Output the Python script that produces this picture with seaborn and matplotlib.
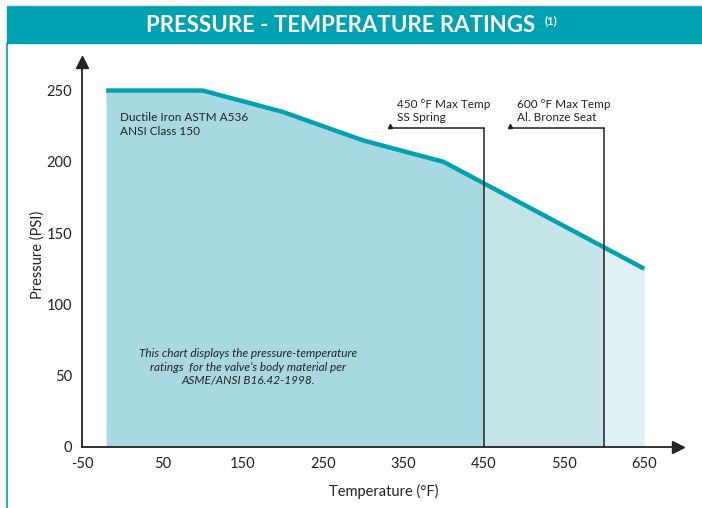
import numpy as np
import pandas as pd
import seaborn as sns
import matplotlib.pyplot as plt
from matplotlib.patches import Rectangle
from matplotlib.lines import Line2D

# pressure-temperature rating, ductile iron class 150
temps = [-20, 100, 200, 300, 400, 500, 600, 650]
pressures = [250, 250, 235, 215, 200, 170, 140, 125]

x_ticks = [-50, 50, 150, 250, 350, 450, 550, 650]
y_ticks = [0, 50, 100, 150, 200, 250]

limit_temps = [450, 600]
limit_labels = ["450 °F Max Temp\nSS Spring", "600 °F Max Temp\nAl. Bronze Seat"]
bracket_psi = 224
bracket_left = [334, 483]

teal = "#00a1b0"
fills = ["#a8d8e2", "#c4e4ea", "#dff1f4"]

sns.set_theme(style="white")
plt.rcParams['font.family'] = ['Lato', 'DejaVu Sans']

df = pd.DataFrame({"temp": temps, "psi": pressures})

fig = plt.figure(figsize=(7.02, 5.08), dpi=100)
ax = fig.add_axes([82 / 702, 61 / 508, 596 / 702, 385 / 508])

# shaded zones split at the limit temperatures
edges = [temps[0]] + limit_temps + [temps[-1]]
for i in range(3):
    lo, hi = edges[i], edges[i + 1]
    xs = sorted(set([lo, hi] + [t for t in temps if lo < t < hi]))
    ax.fill_between(xs, np.interp(xs, temps, pressures), 0,
                    color=fills[i], lw=0, zorder=1)

sns.lineplot(data=df, x="temp", y="psi", ax=ax, color=teal, lw=3.2,
             solid_capstyle="butt", zorder=3)

# limit brackets
for t, lab, left in zip(limit_temps, limit_labels, bracket_left):
    ax.plot([t, t], [0, bracket_psi], color="#222222", lw=1.1, zorder=4)
    ax.plot([left, t], [bracket_psi, bracket_psi], color="#222222", lw=1.1, zorder=4)
    ax.plot(left, bracket_psi + 1.2, marker="^", color="#222222", ms=3, zorder=4)
    ax.text(left + 8, bracket_psi + 3, lab, fontsize=8.5, va="bottom",
            ha="left", color="#222222", linespacing=1.3)

ax.text(-3, 226, "Ductile Iron ASTM A536\nANSI Class 150", fontsize=8.5,
        va="center", ha="left", color="#222222", linespacing=1.3)
ax.text(157, 56, "This chart displays the pressure-temperature\n"
        "ratings  for the valve’s body material per\nASME/ANSI B16.42-1998.",
        fontsize=8.5, style="italic", ha="center", va="center",
        color="#222222", linespacing=1.3)

ax.set_xlim(-50, 692)
ax.set_ylim(0, 270)
ax.set_xticks(x_ticks)
ax.set_yticks(y_ticks)
ax.set_xticklabels([str(v) for v in x_ticks])
ax.tick_params(axis="x", direction="in", length=9, width=1.3, labelsize=10.5,
               pad=7, colors="#222222")
ax.tick_params(axis="y", direction="inout", length=12, width=1.3, labelsize=10.5,
               pad=1, colors="#222222")
for s in ["top", "right"]:
    ax.spines[s].set_visible(False)
for s in ["left", "bottom"]:
    ax.spines[s].set_color("#222222")
    ax.spines[s].set_linewidth(1.3)
ax.plot(1, 0, ">", color="#222222", ms=9, transform=ax.transAxes, clip_on=False)
ax.plot(0, 1, "^", color="#222222", ms=9, transform=ax.transAxes, clip_on=False)
ax.set_xlabel("Temperature (°F)", fontsize=10.5, color="#222222")
ax.set_ylabel("Pressure (PSI)", fontsize=10.5, color="#222222")
ax.xaxis.set_label_coords(302 / 596, -37 / 385)
ax.yaxis.set_label_coords(-37 / 596, 0.5)
ax.patch.set_alpha(0)

# header band and left border
fig.patches.append(Rectangle((7 / 702, 465 / 508), 1, 37 / 508,
                             transform=fig.transFigure, color=teal, zorder=0))
fig.lines.append(Line2D([7 / 702, 7 / 702], [0, 465 / 508],
                        transform=fig.transFigure, color=teal, lw=1.2))
fig.lines.append(Line2D([7 / 702, 1], [503 / 508, 503 / 508],
                        transform=fig.transFigure, color="#d8dcdd", lw=1))
fig.text(341 / 702, 483 / 508, "PRESSURE - TEMPERATURE RATINGS", fontsize=16,
         weight="bold", color="white", ha="center", va="center")
fig.text(545 / 702, 487 / 508, "(1)", fontsize=8, weight="bold", color="white",
         ha="left", va="center")

fig.savefig("out.png", dpi=100)
